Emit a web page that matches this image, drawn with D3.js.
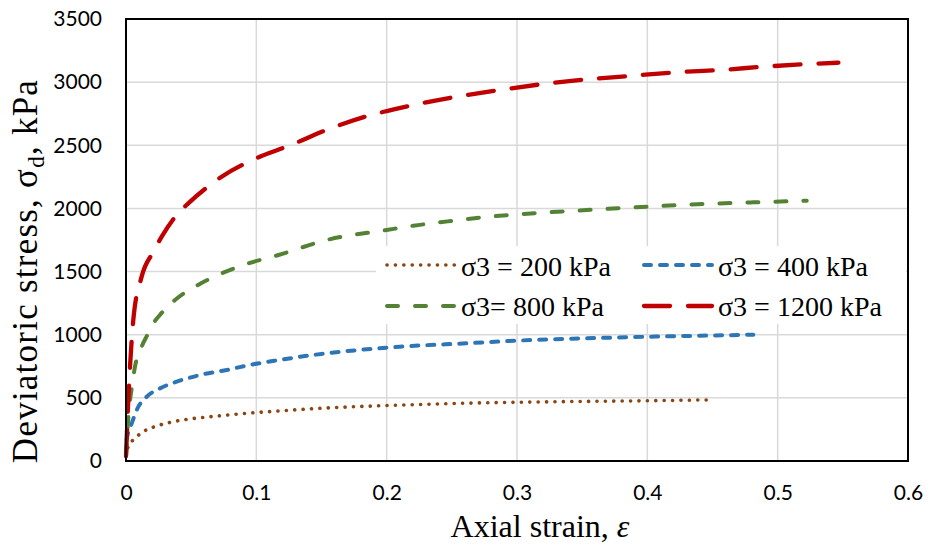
<!DOCTYPE html>
<html>
<head>
<meta charset="utf-8">
<script src="https://cdn.jsdelivr.net/npm/d3@7"></script>
<style>
  body { margin: 0; background: #fff; }
  svg { display: block; }
</style>
</head>
<body>
<svg id="chart" width="931" height="548"></svg>
<script>
// ---- Data ----
const xTicks = [0, 0.1, 0.2, 0.3, 0.4, 0.5, 0.6];
const yTicks = [0, 500, 1000, 1500, 2000, 2500, 3000, 3500];

const seriesNames = ["σ3 = 200 kPa", "σ3 = 400 kPa", "σ3= 800 kPa", "σ3 = 1200 kPa"];

const s200 = [[0,40],[0.0005,74],[0.003,135],[0.0069,180],[0.012,224],[0.0235,277],[0.0363,311],[0.049,333],
  [0.068,354],[0.0926,378],[0.117,396],[0.15,418],[0.18,432],[0.2128,443],[0.25,455],[0.2998,465],[0.3637,473],[0.4008,477],[0.448,484]];
const s400 = [[0,40],[0.0005,166],[0.0044,298],[0.0095,430],[0.0159,509],[0.026,575],[0.0389,628],[0.0568,681],
  [0.0773,721],[0.0977,766],[0.114,794],[0.15,848],[0.18,880],[0.21,905],[0.261,932],[0.2998,953],[0.351,971],[0.4008,984],[0.4404,992],[0.4813,1000]];
const s800 = [[0,40],[0.0018,351],[0.0044,578],[0.0069,747],[0.012,905],[0.0171,1011],[0.021,1090],[0.026,1156],
  [0.0376,1275],[0.0542,1388],[0.0734,1486],[0.0939,1565],[0.117,1631],[0.154,1750],[0.2,1829],[0.2204,1863],[0.241,1890],
  [0.274,1930],[0.305,1956],[0.3535,1987],[0.3995,2014],[0.438,2033],[0.481,2048],[0.5223,2061]];
const s1200 = [[0,40],[0.001,300],[0.0025,640],[0.004,900],[0.0056,1116],[0.012,1460],[0.021,1657],[0.0274,1776],
  [0.0389,1948],[0.0478,2040],[0.0645,2185],[0.0734,2251],[0.0926,2362],[0.104,2415],[0.1245,2494],[0.155,2626],
  [0.187,2737],[0.2,2771],[0.2204,2819],[0.2537,2885],[0.287,2938],[0.32,2985],[0.3535,3022],[0.3867,3049],
  [0.4225,3078],[0.4558,3096],[0.489,3122],[0.5223,3143],[0.5466,3154]];

const seriesData = [s200, s400, s800, s1200];
const colors = ["#8B4513", "#2E75B6", "#548235", "#C00000"];

// ---- Layout ----
const svg = d3.select("#chart");
const L = 126, R = 908, T = 19, B = 461;

const x = d3.scaleLinear().domain([0, 0.6]).range([L, R]);
const y = d3.scaleLinear().domain([0, 3500]).range([B, T]);

const styles = [
  { width: 3.6, dash: "0.1 8.3", cap: "round" },
  { width: 4,   dash: "7 9",     cap: "round" },
  { width: 4,   dash: "11 17",   cap: "round" },
  { width: 4.3, dash: "26 18",   cap: "round" }
];

// gridlines
const grid = svg.append("g");
grid.selectAll("line.h").data(yTicks.slice(1)).enter().append("line")
  .attr("x1", L).attr("x2", R).attr("y1", d => y(d)).attr("y2", d => y(d))
  .attr("stroke", "#d9d9d9").attr("stroke-width", 1.5);
grid.selectAll("line.v").data(xTicks.slice(1)).enter().append("line")
  .attr("y1", T).attr("y2", B).attr("x1", d => x(d)).attr("x2", d => x(d))
  .attr("stroke", "#d9d9d9").attr("stroke-width", 1.5);

// axes (labels only)
const tickFont = "Lato, 'Open Sans', sans-serif";
const xAxis = svg.append("g").attr("transform", `translate(0,${B})`)
  .call(d3.axisBottom(x).tickValues(xTicks).tickFormat(d => d === 0 ? "0" : d3.format(".1f")(d)).tickSize(0).tickPadding(24));
const yAxis = svg.append("g").attr("transform", `translate(${L},0)`)
  .call(d3.axisLeft(y).tickValues(yTicks).tickFormat(d3.format("d")).tickSize(0).tickPadding(24));
[xAxis, yAxis].forEach(a => {
  a.select(".domain").remove();
  a.selectAll("text").attr("font-family", tickFont).attr("font-size", 21).attr("fill", "#000");
});
xAxis.selectAll("text").attr("dy", null).attr("y", 39);

// legend background
const leg = svg.append("g");
leg.append("rect").attr("x", 376).attr("y", 246).attr("width", 530).attr("height", 78).attr("fill", "#fff");

// curves
const line = d3.line().x(d => x(d[0])).y(d => y(d[1])).curve(d3.curveMonotoneX);
const plot = svg.append("g");
seriesData.forEach((data, i) => {
  plot.append("path").datum(data)
    .attr("d", line)
    .attr("fill", "none")
    .attr("stroke", colors[i])
    .attr("stroke-width", styles[i].width)
    .attr("stroke-dasharray", styles[i].dash)
    .attr("stroke-linecap", styles[i].cap);
});

// plot border
svg.append("rect").attr("x", L).attr("y", T).attr("width", R - L).attr("height", B - T)
  .attr("fill", "none").attr("stroke", "#000").attr("stroke-width", 2);

// legend entries
const serif = "'Liberation Serif', 'Times New Roman', serif";
const legPos = [[387, 265], [644, 265], [387, 306], [644, 306]];
const legBase = [276, 276, 316, 316];
seriesNames.forEach((name, i) => {
  const [lx, ly] = legPos[i];
  leg.append("line").attr("x1", lx).attr("x2", lx + 68).attr("y1", ly).attr("y2", ly)
    .attr("stroke", colors[i]).attr("stroke-width", styles[i].width)
    .attr("stroke-dasharray", styles[i].dash).attr("stroke-linecap", styles[i].cap);
  leg.append("text").attr("x", lx + 74).attr("y", legBase[i])
    .attr("font-family", serif).attr("font-size", 28)
    .attr("fill", "#000").text(name);
});

// axis titles
const xt = svg.append("text").attr("x", 540).attr("y", 537).attr("text-anchor", "middle")
  .attr("font-family", serif).attr("font-size", 32).attr("fill", "#000");
xt.append("tspan").text("Axial strain, ");
xt.append("tspan").attr("font-style", "italic").text("ε");

const yt = svg.append("text").attr("transform", `translate(37,271) rotate(-90)`)
  .attr("text-anchor", "middle").attr("font-family", serif).attr("font-size", 35).attr("fill", "#000");
yt.append("tspan").text("Deviatoric stress, σ");
yt.append("tspan").attr("font-size", 23).attr("dy", 7).text("d");
yt.append("tspan").attr("dy", -7).text(", kPa");
// stretch the title's spacing to the reference length (≈383 px)
const ytLen = yt.node().getComputedTextLength();
const nChars = yt.text().length;
yt.attr("letter-spacing", Math.max(0, (383 - ytLen) / (nChars - 1)));
</script>
</body>
</html>
